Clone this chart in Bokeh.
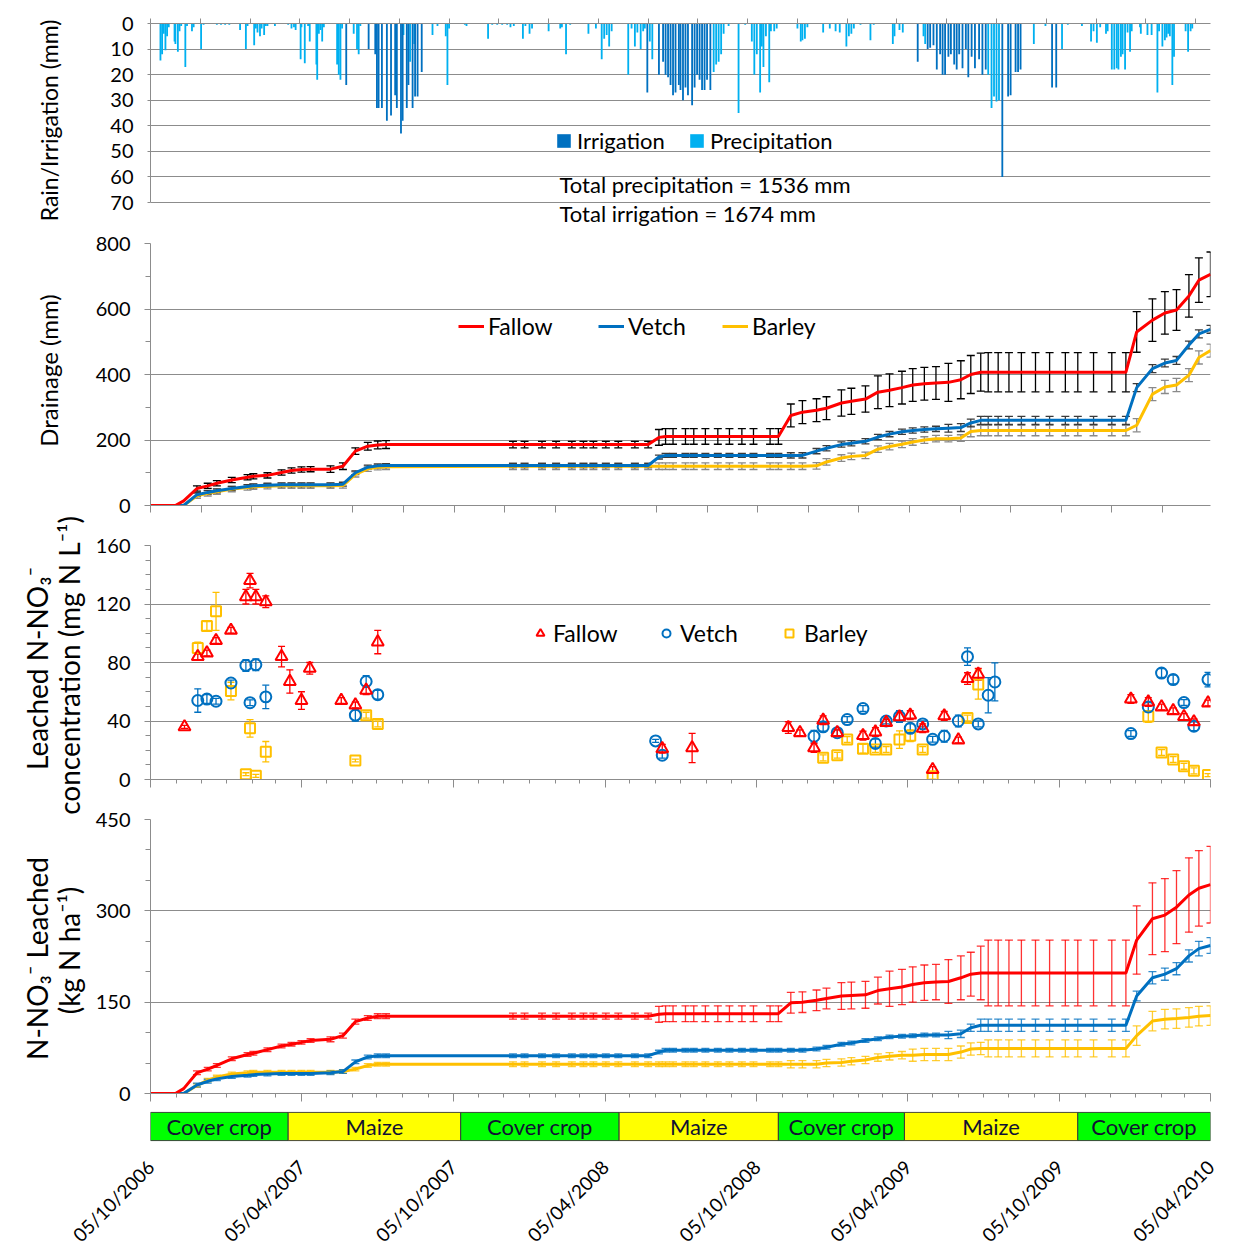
import math
import pandas as pd
from bokeh.plotting import figure
from bokeh.layouts import column, row
from bokeh.models import (ColumnDataSource, Range1d, FixedTicker, Whisker, TeeHead,
                          Legend, LegendItem, Label, CustomJSTickFormatter)
from bokeh.core.properties import value
from bokeh.embed import file_html
from bokeh.resources import INLINE

# ----------------------------------------------------------------- data
START_DATE = "05/10/2006"
END_DATE = "05/04/2010"
DATE_TICK_LABELS = ["05/10/2006", "05/04/2007", "05/10/2007", "05/04/2008",
                    "05/10/2008", "05/04/2009", "05/10/2009", "05/04/2010"]

# crop periods (start dates, dd/mm/yyyy)
CROPS = ["Cover crop", "Maize", "Cover crop", "Maize", "Cover crop", "Maize", "Cover crop"]
CROP_START = ["05/10/2006", "20/03/2007", "14/10/2007", "22/04/2008",
              "31/10/2008", "01/04/2009", "27/10/2009"]

# Panel 1: daily precipitation / irrigation (day since 05/10/2006, mm)
PRECIPITATION = [
    (12, 14.5), (14, 12), (16, 4), (18, 10.5), (20, 5), (22, 1.5), (29, 7), (30, 8), (33, 11),
    (35, 3), (37, 1), (42, 17), (44, 1), (50, 3), (52, 1.5), (61, 10), (64, 0.5), (80, 0.5),
    (85, 0.5), (90, 0.5), (95, 0.5), (108, 2.5), (115, 10), (117, 1), (125, 8.5), (127, 2),
    (129, 3.5), (132, 5), (134, 2), (137, 4.5), (139, 1), (141, 1), (150, 1), (166, 0.5),
    (170, 2), (173, 1.5), (175, 2.5), (181, 14), (182, 1.5), (186, 15.5), (190, 1), (192, 7),
    (200, 16), (201, 22), (203, 4), (205, 2.5), (207, 7), (209, 1.5), (225, 16), (227, 20),
    (229, 22), (231, 2), (245, 4), (249, 10), (251, 12), (253, 1), (305, 4.5), (313, 15),
    (318, 8), (340, 4.5), (346, 1), (356, 5), (358, 24), (360, 2), (379, 0.5), (381, 1),
    (407, 6), (412, 0.5), (418, 0.5), (424, 0.5), (430, 0.5), (434, 1.5), (438, 1), (449, 6),
    (452, 1), (457, 4), (460, 2), (480, 3), (494, 2), (496, 1.5), (501, 12), (506, 0.5),
    (528, 4), (537, 2), (544, 14), (547, 6), (550, 4.5), (553, 9), (556, 3), (576, 20),
    (580, 2), (584, 9), (587, 3.5), (591, 10), (594, 3), (596, 2), (602, 7), (605, 14),
    (679, 19), (682, 16), (685, 15), (688, 12), (691, 4), (697, 1), (709, 35), (717, 0.5),
    (725, 7), (728, 20), (731, 12), (735, 27), (737, 9), (739, 17), (742, 5), (746, 23),
    (748, 3), (752, 3), (755, 2), (780, 2), (784, 7), (786, 6.5), (789, 6), (792, 1.5),
    (811, 3.5), (819, 2), (826, 3), (831, 3.5), (839, 9), (842, 5), (845, 4), (848, 2),
    (856, 0.5), (868, 6.5), (872, 0.5), (895, 8), (897, 5), (903, 2.5), (907, 3.5), (932, 5),
    (934, 8), (1010, 20), (1014, 33), (1017, 28.5), (1020, 30.5), (1023, 30), (1065, 8),
    (1079, 1), (1099, 10), (1106, 0.5), (1123, 1), (1134, 7), (1137, 3), (1141, 7.5),
    (1145, 1.5), (1152, 4), (1154, 3), (1159, 18), (1162, 18), (1165, 17.5), (1167, 18),
    (1170, 13), (1172, 12), (1175, 18), (1178, 3.5), (1181, 11), (1183, 3), (1193, 1.5),
    (1194, 4), (1202, 4.5), (1207, 4.5), (1214, 27), (1216, 3), (1220, 9), (1223, 6.5),
    (1225, 5.5), (1227, 4), (1229, 5), (1232, 24), (1234, 13), (1248, 3), (1251, 11),
    (1254, 3), (1256, 2)]
IRRIGATION = [
    (236, 24), (263, 10), (271, 12), (273, 33), (275, 33), (279, 33), (285, 38), (290, 36),
    (295, 28), (297, 33), (302, 43), (304, 38), (309, 33), (311, 24), (316, 33), (319, 28.5),
    (322, 28.5), (327, 19), (599, 27), (613, 20), (618, 15), (621, 20), (624, 21), (627, 24),
    (630, 28), (633, 27), (637, 24), (639, 26), (642, 30), (645, 25), (648, 28), (653, 32),
    (656, 25), (659, 20), (662, 22), (665, 26), (668, 26), (671, 22), (675, 26), (925, 15),
    (937, 10), (940, 9.5), (944, 8.5), (948, 18), (952, 12), (955, 20), (958, 20), (962, 13),
    (965, 12), (969, 16), (972, 18), (975, 12), (979, 17.5), (983, 10), (986, 21), (990, 13),
    (994, 17.5), (999, 14), (1003, 20), (1007, 18), (1027, 60), (1034, 28.5), (1037, 28),
    (1043, 19), (1046, 19), (1049, 18), (1087, 25), (1092, 25)]
TOTAL_PRECIP_TEXT = "Total precipitation = 1536 mm"
TOTAL_IRRIG_TEXT = "Total  irrigation = 1674 mm"

# Panels 2 and 4: sampling days (since 05/10/2006)
SAMPLE_DAY = [0, 30, 40,
              56, 69, 80, 98, 117, 124, 141, 158, 170, 182, 193,
              217, 232, 247, 262, 274, 284,
              437, 451, 472, 489, 508, 522, 534, 549, 564, 584, 600,
              613, 621, 630, 645, 655, 669, 684, 698, 713, 727, 747, 757,
              772, 786, 803, 815, 833, 845, 862, 877, 891, 906, 919, 933, 947, 962, 977, 989, 1001,
              1010, 1022, 1035, 1050, 1067, 1084, 1103, 1118, 1137, 1159, 1176,
              1189, 1208, 1223, 1237, 1252, 1264, 1278]

# Panel 2: cumulative drainage (mm) and standard errors
DRAIN_FALLOW = [0, 0, 14,
                52, 60, 68, 78, 86, 89, 92, 101, 107, 110, 111,
                111, 120, 166, 181, 185, 186,
                186, 186, 186, 186, 186, 186, 186, 186, 186, 186, 186,
                208, 211, 211, 211, 211, 211, 211, 211, 211, 211, 211, 211,
                275, 285, 291, 297, 313, 318, 325, 346, 352, 360, 368, 372, 374, 376, 384, 400, 407,
                407, 407, 407, 407, 407, 407, 407, 407, 407, 407, 407,
                530, 566, 588, 597, 640, 688, 706]
DRAIN_FALLOW_ERR = [0, 0, 0,
                    8, 8, 8, 8, 8, 8, 8, 8, 8, 8, 8,
                    10, 10, 10, 12, 12, 12,
                    10, 10, 10, 10, 10, 10, 10, 10, 10, 10, 10,
                    24, 24, 24, 24, 24, 24, 24, 24, 24, 24, 24, 24,
                    35, 35, 35, 35, 40, 40, 40, 50, 50, 50, 50, 50, 50, 58, 58, 58, 58,
                    60, 60, 60, 60, 60, 60, 60, 60, 60, 60, 60,
                    62, 65, 65, 62, 65, 68, 68]
DRAIN_VETCH = [0, 0, 0,
               33, 40, 45, 52, 58, 60, 62, 63, 63, 63, 63,
               63, 65, 100, 117, 121, 122,
               122, 122, 122, 122, 122, 122, 122, 122, 122, 122, 122,
               148, 153, 153, 153, 153, 153, 153, 153, 153, 153, 153, 153,
               153, 153, 166, 175, 186, 190, 196, 209, 218, 225, 229, 232, 234, 236, 238, 252, 260,
               260, 260, 260, 260, 260, 260, 260, 260, 260, 260, 260,
               360, 418, 435, 443, 490, 524, 538]
DRAIN_VETCH_ERR = [0, 0, 0,
                   6, 6, 6, 6, 6, 6, 6, 6, 6, 6, 6,
                   6, 6, 6, 6, 6, 6,
                   6, 6, 6, 6, 6, 6, 6, 6, 6, 6, 6,
                   6, 6, 6, 6, 6, 6, 6, 6, 6, 6, 6, 6,
                   8, 8, 8, 8, 8, 8, 8, 8, 8, 8, 8, 8, 8, 12, 12, 12, 12,
                   12, 12, 12, 12, 12, 12, 12, 12, 12, 12, 12,
                   12, 12, 12, 12, 12, 12, 12]
DRAIN_BARLEY = [0, 0, 0,
                30, 37, 42, 50, 55, 57, 59, 60, 60, 60, 60,
                60, 61, 95, 112, 117, 118,
                120, 120, 120, 120, 120, 120, 120, 120, 120, 120, 120,
                120, 120, 120, 120, 120, 120, 120, 120, 120, 120, 120, 120,
                120, 120, 121, 133, 145, 150, 153, 172, 180, 187, 194, 200, 204, 204, 206, 226, 229,
                229, 229, 229, 229, 229, 229, 229, 229, 229, 229, 229,
                245, 340, 362, 368, 398, 452, 473]
DRAIN_BARLEY_ERR = [0, 0, 0,
                    8, 8, 8, 8, 8, 8, 8, 8, 8, 8, 8,
                    8, 8, 8, 8, 8, 8,
                    10, 10, 10, 10, 10, 10, 10, 10, 10, 10, 10,
                    10, 10, 10, 10, 10, 10, 10, 10, 10, 10, 10, 10,
                    10, 10, 10, 10, 10, 10, 10, 10, 10, 10, 10, 10, 10, 10, 10, 16, 16,
                    16, 16, 16, 16, 16, 16, 16, 16, 16, 16, 16,
                    20, 20, 20, 20, 20, 20, 20]

# Panel 4: cumulative N-NO3 leached (kg N/ha) and standard errors
NLEACH_FALLOW = [0, 0, 8,
                 34, 40, 46, 57, 64, 66, 72, 78, 81, 84, 87,
                 89, 95, 118, 124, 127, 127,
                 127, 127, 127, 127, 127, 127, 127, 127, 127, 127, 127,
                 130, 131, 131, 131, 131, 131, 131, 131, 131, 131, 131, 131,
                 149, 150, 153, 156, 160, 161, 162, 169, 172, 175, 179, 182, 183, 184, 190, 196, 198,
                 198, 198, 198, 198, 198, 198, 198, 198, 198, 198, 198,
                 252, 287, 293, 306, 326, 337, 343]
NLEACH_FALLOW_ERR = [0, 0, 0,
                     3, 3, 3, 3, 3, 3, 3, 3, 3, 3, 3,
                     4, 4, 4, 4, 4, 4,
                     5, 5, 5, 5, 5, 5, 5, 5, 5, 5, 5,
                     13, 13, 13, 13, 13, 13, 13, 13, 13, 13, 13, 13,
                     17, 17, 17, 17, 22, 22, 22, 22, 29, 29, 29, 29, 29, 36, 36, 36, 44,
                     54, 54, 54, 54, 54, 54, 54, 54, 54, 54, 54,
                     56, 59, 60, 60, 61, 62, 63]
NLEACH_VETCH = [0, 0, 0,
                14, 20, 24, 28, 30, 31, 32, 33, 33, 33, 33,
                34, 36, 52, 60, 62, 62,
                62, 62, 62, 62, 62, 62, 62, 62, 62, 62, 62,
                68, 71, 71, 71, 71, 71, 71, 71, 71, 71, 71, 71,
                71, 71, 73, 76, 81, 83, 87, 90, 93, 94, 95, 96, 96, 96, 98, 108, 112,
                112, 112, 112, 112, 112, 112, 112, 112, 112, 112, 112,
                160, 190, 196, 205, 226, 238, 243]
NLEACH_VETCH_ERR = [0, 0, 0,
                    3, 3, 3, 3, 3, 3, 3, 3, 3, 3, 3,
                    3, 3, 3, 3, 3, 3,
                    3, 3, 3, 3, 3, 3, 3, 3, 3, 3, 3,
                    3, 3, 3, 3, 3, 3, 3, 3, 3, 3, 3, 3,
                    3, 3, 3, 3, 3, 3, 3, 3, 3, 3, 3, 3, 3, 6, 6, 6, 10,
                    10, 10, 10, 10, 10, 10, 10, 10, 10, 10, 10,
                    8, 10, 10, 10, 10, 12, 13]
NLEACH_BARLEY = [0, 0, 0,
                 13, 22, 27, 32, 34, 35, 35, 35, 35, 35, 35,
                 35, 36, 40, 46, 48, 48,
                 48, 48, 48, 48, 48, 48, 48, 48, 48, 48, 48,
                 48, 48, 48, 48, 48, 48, 48, 48, 48, 48, 48, 48,
                 48, 48, 48, 50, 51, 53, 55, 59, 61, 63, 63, 64, 64, 64, 68, 73, 74,
                 74, 74, 74, 74, 74, 74, 74, 74, 74, 74, 74,
                 95, 119, 122, 123, 125, 127, 128]
NLEACH_BARLEY_ERR = [0, 0, 0,
                     3, 3, 3, 3, 3, 3, 3, 3, 3, 3, 3,
                     3, 3, 3, 3, 3, 3,
                     4, 4, 4, 4, 4, 4, 4, 4, 4, 4, 4,
                     4, 4, 4, 4, 4, 4, 4, 4, 4, 4, 4, 4,
                     6, 6, 6, 6, 6, 6, 6, 6, 6, 6, 10, 10, 10, 10, 10, 10, 10,
                     14, 14, 14, 14, 14, 14, 14, 14, 14, 14, 14,
                     16, 16, 16, 16, 16, 16, 16]

# Panel 3: leached N-NO3 concentration (mg N/L) with standard errors
CONC_FALLOW_DAY = [41, 57, 68, 79, 97, 115, 120, 127, 139, 158, 168, 182, 192, 230, 247, 260, 274,
                   617, 653, 769, 783, 800, 811, 828, 859, 874, 887, 903, 916, 931, 943, 957, 974,
                   985, 998, 1182, 1203, 1219, 1233, 1246, 1258, 1275]
CONC_FALLOW = [36, 84, 86.5, 95, 102, 125, 136, 125, 121.5, 84, 67, 54, 76, 54, 51, 61, 94,
               21, 21.6, 35.5, 32, 21.6, 40.5, 32, 30, 32.5, 39, 42.8, 44, 35, 6.8, 43.5, 27,
               69, 72, 55, 53, 49.6, 47, 43, 39.4, 52.3]
CONC_FALLOW_ERR = [1, 2, 2, 2, 2, 5, 5, 5, 4, 7, 8, 6, 4, 2, 2, 3, 8,
                   3, 10, 4, 2, 3, 3, 2, 3, 3, 2, 3, 3, 3, 2, 3, 2,
                   4, 4, 3, 3, 2, 2, 2, 2, 2]
CONC_VETCH_DAY = [57, 68, 79, 97, 115, 120, 127, 139, 247, 260, 274, 609, 617, 800, 811, 828, 840,
                  859, 874, 887, 903, 916, 931, 943, 957, 974, 985, 998, 1010, 1018,
                  1182, 1203, 1219, 1233, 1246, 1258, 1275]
CONC_VETCH = [54, 55, 53.5, 66, 78, 52.5, 78.5, 56.5, 44, 67, 58, 26.4, 16.6, 29.6, 36, 32, 41,
              48.5, 24.6, 40, 43, 35, 38, 27.5, 29.6, 40, 84, 38, 57.6, 66.7,
              31.4, 49.6, 72.8, 68.3, 52.6, 36.4, 68.3]
CONC_VETCH_ERR = [8, 3, 2, 2, 4, 2, 4, 8, 4, 4, 3, 1, 2, 4, 3, 2, 2,
                  2, 3, 2, 4, 3, 2, 2, 4, 4, 6, 2, 12, 13,
                  2, 3, 3, 3, 2, 3, 5]
CONC_BARLEY_DAY = [57, 68, 79, 97, 115, 120, 127, 139, 247, 260, 274, 811, 828, 840, 859, 874,
                   887, 903, 916, 931, 943, 985, 998, 1203, 1219, 1233, 1246, 1258, 1275]
CONC_BARLEY = [90, 105, 115, 60.5, 3.6, 35, 2.5, 19, 13, 44, 38, 14.8, 16.6, 27.3, 21, 20.5,
               20.5, 27.3, 30, 20.5, 2.3, 42, 65, 43, 18.4, 13.7, 9, 5.9, 3]
CONC_BARLEY_ERR = [4, 3, 13, 6, 1, 6, 1, 7, 1, 2, 2, 2, 2, 2, 3, 2,
                   2, 6, 4, 2, 2, 2, 10, 4, 2, 2, 2, 2, 1]

# axis ticks
RAIN_TICKS = [0, 10, 20, 30, 40, 50, 60, 70]
DRAIN_TICKS = [0, 200, 400, 600, 800]
DRAIN_MINOR = [100, 300, 500, 700]
CONC_TICKS = [0, 40, 80, 120, 160]
CONC_MINOR = [10, 20, 30, 50, 60, 70, 90, 100, 110, 130, 140, 150]
NL_TICKS = [0, 150, 300, 450]
NL_MINOR = [50, 100, 200, 250, 350, 400]

for arr in (DRAIN_FALLOW, DRAIN_FALLOW_ERR, DRAIN_VETCH, DRAIN_VETCH_ERR, DRAIN_BARLEY,
            DRAIN_BARLEY_ERR, NLEACH_FALLOW, NLEACH_FALLOW_ERR, NLEACH_VETCH, NLEACH_VETCH_ERR,
            NLEACH_BARLEY, NLEACH_BARLEY_ERR):
    assert len(arr) == len(SAMPLE_DAY), len(arr)

# ----------------------------------------------------------------- helpers
T0 = pd.to_datetime(START_DATE, dayfirst=True)
T1 = pd.to_datetime(END_DATE, dayfirst=True)


def to_day(s):
    return (pd.to_datetime(s, dayfirst=True) - T0).days


X_END = to_day(END_DATE)
DATE_TICK_DAYS = [to_day(s) for s in DATE_TICK_LABELS]
MONTH_DAYS = [(d - T0).days for d in pd.date_range(T0, T1, freq=pd.DateOffset(months=1))]

FONT = "Lato"
GRID = "#8c8c8c"
RED, BLUE, GOLD = "#FF0000", "#0070C0", "#FFC000"
IRR_C, PRE_C = "#0070C0", "#00B0F0"
PANEL_W = 1136
PL, PR = 62, 14
BLANK = CustomJSTickFormatter(code="return ''")


def panel(height, top, bottom, y_range, xloc):
    p = figure(width=PANEL_W, height=height, x_range=Range1d(0, X_END), y_range=y_range,
               x_axis_location=xloc, y_axis_location="left",
               output_backend="svg", toolbar_location=None,
               min_border_left=PL, min_border_right=PR,
               min_border_top=top, min_border_bottom=bottom)
    p.outline_line_color = None
    p.xgrid.grid_line_color = None
    return p


def style_y(p, ticks, minor, size="20px"):
    tk = FixedTicker(ticks=ticks, minor_ticks=minor)
    ax = p.yaxis[0]
    ax.ticker = tk
    p.ygrid[0].ticker = tk
    p.ygrid.grid_line_color = GRID
    p.ygrid.grid_line_width = 1
    ax.axis_line_color = GRID
    ax.major_tick_line_color = GRID
    ax.minor_tick_line_color = GRID
    ax.major_tick_in, ax.major_tick_out = 0, 6
    ax.minor_tick_in, ax.minor_tick_out = 0, 5
    ax.major_label_text_font = FONT
    ax.major_label_text_font_size = size
    ax.major_label_text_color = "black"
    ax.major_label_standoff = 14


def style_x(p, ticks, minor, out, minor_out):
    ax = p.xaxis[0]
    ax.ticker = FixedTicker(ticks=ticks, minor_ticks=minor)
    ax.formatter = BLANK
    ax.axis_line_color = GRID
    ax.major_tick_line_color = GRID
    ax.minor_tick_line_color = GRID
    ax.major_tick_in, ax.major_tick_out = 0, out
    ax.minor_tick_in, ax.minor_tick_out = 0, minor_out
    ax.major_label_text_font_size = "1px"
    ax.major_label_text_color = None
    ax.major_label_standoff = 0


def add_err(p, days, vals, errs, color, size=8, width=1.3, alpha=1.0):
    keep = [i for i, e in enumerate(errs) if e > 0]
    src = ColumnDataSource(dict(x=[days[i] for i in keep],
                                upper=[vals[i] + errs[i] for i in keep],
                                lower=[vals[i] - errs[i] for i in keep]))
    w = Whisker(source=src, base="x", upper="upper", lower="lower", dimension="height",
                line_color=color, line_width=width, line_alpha=alpha,
                upper_head=TeeHead(size=size, line_color=color, line_width=width, line_alpha=alpha),
                lower_head=TeeHead(size=size, line_color=color, line_width=width, line_alpha=alpha))
    p.add_layout(w)


def add_legend(p, label, rend, x, y, size="23px", gw=26, gh=28, lh=None, standoff=4):
    lg = Legend(items=[LegendItem(label=label, renderers=[rend])], location=(x, y),
                orientation="horizontal", padding=0, margin=0, border_line_color=None,
                background_fill_alpha=0, label_text_font=FONT, label_text_font_size=size,
                label_text_color="black", glyph_width=gw, glyph_height=gh,
                label_height=lh if lh is not None else gh, label_standoff=standoff)
    p.add_layout(lg)


# ----------------------------------------------------------------- panel 1: rain
# the frame runs a little below 70 mm so that the two total texts stay inside it
p1 = panel(232, 23, 0, Range1d(81.7, 0), "above")
pre_day = [d for d, _ in PRECIPITATION]
pre_mm = [m for _, m in PRECIPITATION]
irr_day = [d for d, _ in IRRIGATION]
irr_mm = [m for _, m in IRRIGATION]
r_pre = p1.vbar(x="day", top="mm", bottom=0, width=2.2,
                source=ColumnDataSource(dict(day=pre_day, mm=pre_mm)),
                fill_color=PRE_C, line_color=None)
r_irr = p1.vbar(x="day", top="mm", bottom=0, width=2.2,
                source=ColumnDataSource(dict(day=irr_day, mm=irr_mm)),
                fill_color=IRR_C, line_color=None)
style_y(p1, RAIN_TICKS, [], size="20px")
p1.yaxis[0].major_tick_out = 3
p1.yaxis[0].bounds = (RAIN_TICKS[0], RAIN_TICKS[-1])
style_x(p1, list(range(0, X_END + 1, 60)), [], 5, 0)
add_legend(p1, "Irrigation", r_irr, 405, 78, size="22px", gw=17, gh=17, lh=17, standoff=5)
add_legend(p1, "Precipitation", r_pre, 538, 78, size="22px", gw=17, gh=17, lh=17, standoff=5)
for txt, yy in ((TOTAL_PRECIP_TEXT, 48), (TOTAL_IRRIG_TEXT, 19)):
    p1.add_layout(Label(x=409, y=yy, x_units="screen", y_units="screen", text=txt,
                        text_font=FONT, text_font_size="22px", text_color="black",
                        text_baseline="middle", text_align="left"))

# ----------------------------------------------------------------- panel 2: drainage
p2 = panel(293, 11, 20, Range1d(0, 800), "below")
style_y(p2, DRAIN_TICKS, DRAIN_MINOR)
style_x(p2, list(range(0, X_END + 1, 61)), [], 7, 0)
add_err(p2, SAMPLE_DAY, DRAIN_BARLEY, DRAIN_BARLEY_ERR, "#8a8a8a")
add_err(p2, SAMPLE_DAY, DRAIN_VETCH, DRAIN_VETCH_ERR, "#3a3a3a")
add_err(p2, SAMPLE_DAY, DRAIN_FALLOW, DRAIN_FALLOW_ERR, "#000000")
src2 = ColumnDataSource(dict(day=SAMPLE_DAY, f=DRAIN_FALLOW, v=DRAIN_VETCH, b=DRAIN_BARLEY))
l2b = p2.line("day", "b", source=src2, line_color=GOLD, line_width=3)
l2v = p2.line("day", "v", source=src2, line_color=BLUE, line_width=3)
l2f = p2.line("day", "f", source=src2, line_color=RED, line_width=3)
add_legend(p2, "Fallow", l2f, 308, 165)
add_legend(p2, "Vetch", l2v, 448, 165)
add_legend(p2, "Barley", l2b, 572, 165)

# ----------------------------------------------------------------- panel 3: concentration
p3 = panel(275, 20, 21, Range1d(0, 160), "below")
style_y(p3, CONC_TICKS, CONC_MINOR)
style_x(p3, DATE_TICK_DAYS, MONTH_DAYS, 8, 4)
add_err(p3, CONC_BARLEY_DAY, CONC_BARLEY, CONC_BARLEY_ERR, GOLD, size=7, width=1.3)
add_err(p3, CONC_VETCH_DAY, CONC_VETCH, CONC_VETCH_ERR, BLUE, size=7, width=1.3)
add_err(p3, CONC_FALLOW_DAY, CONC_FALLOW, CONC_FALLOW_ERR, RED, size=7, width=1.3)
s3b = p3.scatter("d", "v", source=ColumnDataSource(dict(d=CONC_BARLEY_DAY, v=CONC_BARLEY)),
                 marker="square", size=10, fill_color=None, line_color=GOLD, line_width=2)
s3v = p3.scatter("d", "v", source=ColumnDataSource(dict(d=CONC_VETCH_DAY, v=CONC_VETCH)),
                 marker="circle", size=11, fill_color=None, line_color=BLUE, line_width=2)
s3f = p3.scatter("d", "v", source=ColumnDataSource(dict(d=CONC_FALLOW_DAY, v=CONC_FALLOW)),
                 marker="triangle", size=12, fill_color=None, line_color=RED, line_width=2)
add_legend(p3, "Fallow", s3f, 380, 132, gw=20, gh=28, standoff=3)
add_legend(p3, "Vetch", s3v, 506, 132, gw=20, gh=28, standoff=4)
add_legend(p3, "Barley", s3b, 629, 132, gw=20, gh=28, standoff=5)

# ----------------------------------------------------------------- panel 4: N leached
p4 = panel(308, 19, 15, Range1d(0, 450), "below")
style_y(p4, NL_TICKS, NL_MINOR)
style_x(p4, DATE_TICK_DAYS, MONTH_DAYS, 8, 4)
add_err(p4, SAMPLE_DAY, NLEACH_BARLEY, NLEACH_BARLEY_ERR, GOLD, alpha=0.8)
add_err(p4, SAMPLE_DAY, NLEACH_VETCH, NLEACH_VETCH_ERR, BLUE, alpha=0.8)
add_err(p4, SAMPLE_DAY, NLEACH_FALLOW, NLEACH_FALLOW_ERR, RED, alpha=0.8)
src4 = ColumnDataSource(dict(day=SAMPLE_DAY, f=NLEACH_FALLOW, v=NLEACH_VETCH, b=NLEACH_BARLEY))
p4.line("day", "b", source=src4, line_color=GOLD, line_width=3)
p4.line("day", "v", source=src4, line_color=BLUE, line_width=3)
p4.line("day", "f", source=src4, line_color=RED, line_width=3)

# ----------------------------------------------------------------- y-axis titles
labfig = figure(width=88, height=1108, x_range=Range1d(0, 1), y_range=Range1d(0, 1),
                x_axis_location=None, y_axis_location=None, output_backend="svg",
                toolbar_location=None, min_border=0)
labfig.outline_line_color = None
labfig.xgrid.grid_line_color = None
labfig.ygrid.grid_line_color = None
for txt, x, y, size in (("Rain/Irrigation (mm)", 48, 988, "23px"),
                        ("Drainage (mm)", 48, 738, "24px"),
                        ("Leached N-NO\u2083\u207b", 36, 440, "28px"),
                        ("concentration (mg N L\u207b\u00b9)", 68, 443, "28px"),
                        ("N-NO\u2083\u207b Leached", 36, 150, "28px"),
                        ("(kg N ha\u207b\u00b9)", 68, 158, "28px")):
    labfig.add_layout(Label(x=x, y=y, x_units="screen", y_units="screen", text=txt,
                            angle=math.pi / 2, text_align="center", text_baseline="middle",
                            text_font=FONT, text_font_size=size, text_color="black"))

# ----------------------------------------------------------------- crop band + dates
crop_start_days = [to_day(s) for s in CROP_START]
crop_end_days = crop_start_days[1:] + [X_END]
crop_colors = ["#00FF00" if c == "Cover crop" else "#FFFF00" for c in CROPS]
p5 = figure(width=1224, height=149, x_range=Range1d(0, X_END), y_range=Range1d(-0.03, 1.03),
            x_axis_location="below", y_axis_location=None, output_backend="svg",
            toolbar_location=None, min_border_left=150, min_border_right=14,
            min_border_top=3, min_border_bottom=104)
p5.outline_line_color = None
p5.xgrid.grid_line_color = None
p5.ygrid.grid_line_color = None
src5 = ColumnDataSource(dict(left=crop_start_days, right=crop_end_days, color=crop_colors,
                             name=CROPS,
                             mid=[(a + b) / 2 for a, b in zip(crop_start_days, crop_end_days)]))
p5.quad(left="left", right="right", bottom=0, top=1, fill_color="color", line_color="#3a3a3a",
        line_width=1, source=src5)
p5.text(x="mid", y=0.5, text="name", source=src5, text_align="center", text_baseline="middle",
        text_font=value(FONT), text_font_size=value("22px"), text_color="#111133")
ax5 = p5.xaxis[0]
ax5.ticker = FixedTicker(ticks=DATE_TICK_DAYS)
ax5.formatter = CustomJSTickFormatter(
    args=dict(days=DATE_TICK_DAYS, labels=DATE_TICK_LABELS),
    code="const i = days.indexOf(tick); return i >= 0 ? labels[i] : '';")
ax5.major_label_orientation = math.pi / 4
ax5.axis_line_color = None
ax5.major_tick_line_color = None
ax5.minor_tick_line_color = None
ax5.major_label_text_font = FONT
ax5.major_label_text_font_size = "19px"
ax5.major_label_text_color = "black"
ax5.major_label_standoff = 16

layout = column(row(labfig, column(p1, p2, p3, p4)), p5)
open("out.html", "w").write(file_html(layout, INLINE))
